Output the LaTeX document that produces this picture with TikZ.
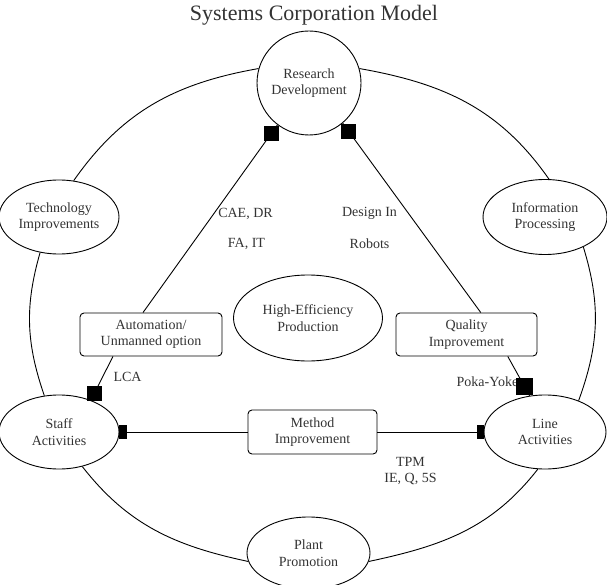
\documentclass[tikz,border=0pt]{standalone}
\usepackage{fontspec}
\setmainfont{Liberation Serif}
\usetikzlibrary{shapes.geometric}
\usetikzlibrary{arrows.meta}

\begin{document}
\begin{tikzpicture}
[x=1pt,y=1pt,line width=0.9pt,%
  every node/.style={text=black!80,align=center,font=\fontsize{14}{16.5}\selectfont},%
  area/.style={ellipse,draw,inner sep=0pt},%
  stage/.style={rectangle,rounded corners=4pt,draw,inner sep=0pt,minimum height=43pt},%
  tip/.style={rectangle,fill=black,inner sep=0pt,minimum size=15pt},%
  stop/.style={-{Rectangle[length=7pt,width=14pt]}}]
\useasboundingbox (0,0) rectangle (607,-585);
\node[font=\fontsize{22}{26}\selectfont] (title) at (314,-15) {Systems Corporation Model};
% ring of areas
\node[area,circle,minimum size=104pt] (rd) at (309,-83) {Research\\Development};
\node[area,minimum width=120pt,minimum height=74pt] (ti) at (59,-217) {Technology\\Improvements};
\node[area,minimum width=124pt,minimum height=75pt] (ip) at (545,-217) {Information\\Processing};
\node[area,minimum width=120pt,minimum height=74pt] (sa) at (59,-432) {Staff\\Activities};
\node[area,minimum width=122pt,minimum height=74pt] (la) at (545,-432) {Line\\Activities};
\node[area,minimum width=123pt,minimum height=72pt] (pp) at (308.5,-553) {Plant\\Promotion};
\node[area,minimum width=149pt,minimum height=86pt] (he) at (308,-318) {High-Efficiency\\Production};
% improvement boxes
\node[stage,minimum width=142pt] (au) at (151,-334.5) {Automation/\\Unmanned option};
\node[stage,minimum width=141pt] (qi) at (466.5,-334.5) {Quality\\Improvement};
\node[stage,minimum width=129pt,minimum height=44pt] (mi) at (312.5,-432) {Method\\Improvement};
% labels
\node (cae) at (245.5,-214) {CAE, DR};
\node (fait) at (246.5,-244) {FA, IT};
\node (design) at (369.5,-213) {Design In};
\node (robots) at (369.5,-244) {Robots};
\node (lca) at (127.5,-377) {LCA};
\node[anchor=east] (poka) at (522,-382) {Poka-Yoke};
\node (tpm) at (410.5,-471) {TPM\\IE, Q, 5S};
% outer ring
\draw (rd.16) to[out=-10,in=125] (ip.84);
\draw (rd.164) to[out=190,in=55] (ti.68);
\draw (ti.242) to[out=254,in=109] (sa.112);
\draw (sa.-56) to[out=-52,in=168] (pp.188);
\draw (pp.-8) to[out=12,in=232] (la.259);
\draw (la.43) to[out=70,in=287] (ip.-38);
% inner links
\draw (au.110) -- (rd.233) node[tip,pos=0.955] (t1) {};
\draw (qi.57) -- (rd.-50) node[tip,pos=0.957] (t2) {};
\draw (au.210) -- (sa.45) node[tip,pos=0.85] (t3) {};
\draw (qi.-28) -- (la.113) node[tip,pos=0.77,minimum size=17pt] (t4) {};
\draw[stop] (mi.west) -- (sa.east);
\draw[stop] (mi.east) -- (la.west);
\end{tikzpicture}
\end{document}
